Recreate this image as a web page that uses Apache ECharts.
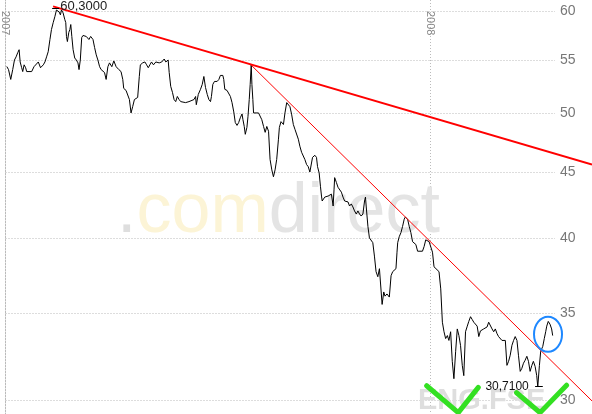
<!DOCTYPE html>
<html><head><meta charset="utf-8">
<script src="https://cdn.jsdelivr.net/npm/echarts@6/dist/echarts.min.js"></script>
<style>html,body{margin:0;padding:0;background:#fff}#c{width:592px;height:414px}</style>
</head><body><div id="c"></div>
<script>
// days since 2007-01-01
const days = [1.1,2.6,4.5,6.2,7.7,9.1,10.5,11.7,12.6,13.9,
14.8,16.0,17.3,18.2,22.5,24.5,25.9,28.2,30.1,32.5,
33.9,35.3,36.7,38.2,39.5,41.0,42.4,43.8,45.3,46.1,
47.2,48.1,49.5,51.0,51.8,52.4,53.2,54.4,55.3,56.1,
57.0,58.1,59.5,60.9,62.3,63.2,64.3,65.5,66.6,69.4,
71.7,73.2,75.2,76.6,78.0,79.4,80.9,82.2,83.7,85.1,
86.5,88.0,89.4,91.4,93.1,95.1,97.4,99.3,100.8,101.6,
103.6,105.0,106.5,107.9,109.3,110.8,112.1,113.6,115.0,115.9,
117.9,119.8,121.3,122.7,124.1,125.5,127.2,129.2,130.7,132.1,
134.3,136.4,137.8,139.8,140.7,142.0,143.5,144.9,146.3,147.7,
149.2,150.6,152.0,154.8,157.7,162.0,163.4,164.0,165.7,167.6,
169.1,170.5,171.9,173.4,174.8,176.2,177.0,178.2,179.6,181.9,
183.4,184.7,186.8,187.6,188.5,190.4,191.9,193.3,194.7,196.2,
197.5,199.0,200.4,201.8,203.3,204.1,205.2,206.1,207.5,208.4,
209.5,210.3,211.2,211.8,212.6,213.2,217.5,218.9,220.3,221.8,
223.2,224.6,226.1,227.4,228.9,230.3,231.7,233.1,234.6,235.4,
236.8,238.9,240.2,241.7,243.1,244.5,246.0,247.4,248.8,251.7,
253.0,254.5,257.3,258.8,260.2,261.6,263.0,263.9,265.9,267.3,
268.2,269.6,270.7,271.6,272.2,273.0,274.4,275.8,277.3,278.7,
280.1,281.0,281.6,282.4,282.9,284.4,285.8,287.2,288.7,290.1,
291.5,292.9,294.4,295.7,297.2,298.6,300.0,301.5,302.9,304.3,
305.7,307.2,308.6,309.4,310.0,311.5,312.8,314.3,315.7,317.1,
318.5,320.0,321.4,322.8,323.7,325.1,326.2,327.9,329.9,331.4,
332.8,334.2,335.6,336.5,337.1,338.4,339.9,341.3,342.7,343.6,
344.8,345.6,347.0,348.4,349.9,351.3,352.7,354.2,358.4,359.8,
361.2,362.7,364.1,365.5,367.0,368.3,369.8,372.6,374.1,375.5,
376.9,378.3,379.8,381.1,382.6,384.0,385.4,386.9,388.3,389.7,
391.1,392.6,393.9,395.4,396.9,398.2,399.7,401.1,402.5,403.9,
405.4,406.8,408.2,409.7,411.0,412.5,413.9,415.3,416.8,418.2,
419.6,421.0,422.5,423.8,425.3,426.7,428.1,429.6,431.0,432.4,
433.8,435.3,436.7,438.1,439.6,440.9,442.4,443.8,445.2,446.6,
448.1,449.5,450.9,452.4,453.7,455.2,456.6,457.5,458.9,460.0,
461.8,463.1,464.3,465.2,466.5,468.0,469.4,470.3];

const prices = [54.35,54.05,53.11,54.05,54.98,55.29,55.70,56.00,54.79,54.23,
53.86,54.51,54.23,53.86,53.86,54.33,54.51,54.79,54.23,54.51,
54.79,55.29,55.80,57.03,58.05,58.77,59.39,60.11,60.30,59.90,
59.59,60.11,59.80,59.08,58.77,57.34,56.82,57.75,58.05,58.57,
57.34,56.00,55.18,54.98,54.70,54.05,54.98,57.23,57.44,57.34,
57.03,57.34,57.03,56.21,55.49,54.98,54.33,54.05,54.23,53.77,
53.11,54.33,54.70,54.33,54.89,54.33,54.05,53.86,53.11,52.27,
52.08,51.99,51.24,50.03,50.59,51.24,51.24,51.43,53.39,54.51,
54.70,54.79,54.51,54.23,54.51,54.79,54.51,54.79,54.98,54.70,
54.79,55.08,54.79,54.98,53.77,52.46,51.90,51.24,51.05,51.52,
51.24,51.05,50.96,50.96,51.05,51.24,51.52,50.77,51.71,52.18,
52.64,53.39,52.36,51.71,51.24,51.05,51.52,52.64,52.92,52.92,
53.11,53.49,53.49,53.11,52.18,52.08,51.99,51.52,50.96,50.12,
49.18,48.93,49.18,49.60,49.94,49.43,48.84,48.16,48.76,49.69,
51.24,52.64,54.50,52.64,51.24,50.03,50.03,49.86,49.43,48.84,
48.33,48.84,48.42,46.05,45.20,44.65,45.20,46.05,47.74,48.76,
49.26,49.01,50.03,50.96,50.96,50.59,49.86,49.01,48.59,47.74,
47.15,46.64,46.05,45.63,45.46,45.03,44.95,46.22,46.39,46.22,
45.46,44.95,43.90,43.14,42.76,42.91,43.06,42.91,43.14,43.06,
43.29,42.76,42.38,43.67,44.58,44.20,43.82,43.67,43.44,43.06,
42.76,42.76,42.69,42.38,42.54,42.31,42.01,41.78,42.01,41.78,
41.63,41.78,42.76,43.06,42.38,40.87,40.04,39.90,39.70,38.76,
37.70,37.36,37.90,37.90,35.56,36.36,36.09,36.23,36.03,37.43,
37.70,37.76,37.90,39.03,39.70,40.12,40.42,40.87,41.40,41.55,
41.63,41.40,40.87,40.42,39.77,39.90,39.57,39.10,39.10,39.43,
39.90,39.90,39.77,39.70,39.03,38.03,37.90,37.70,36.56,34.45,
33.87,33.46,33.64,33.35,33.87,32.13,31.15,32.71,34.04,33.64,
33.06,31.90,31.32,33.87,34.21,34.50,34.79,34.62,34.45,34.33,
34.21,33.58,33.92,34.04,34.04,33.92,34.16,34.45,34.33,34.04,
33.87,34.04,33.75,33.58,33.64,33.35,33.29,33.35,31.90,32.13,
32.48,33.06,33.35,33.58,33.35,32.48,31.56,31.73,32.02,32.19,
32.42,32.13,31.56,31.90,32.13,31.84,31.32,30.71,31.90,32.71,
33.00,33.46,33.87,34.21,34.50,34.33,34.04,33.64];

const yTicks = [30, 35, 40, 45, 50, 55, 60];
const yearTicks = [2007, 2008];
const upperTrendDays = [43.6, 503.9];
const upperTrendVals = [60.5, 45.63];
const lowerTrendDays = [211.8, 503.9];
const lowerTrendVals = [54.6, 29.94];
const highDay = 45.3, highVal = 60.30, highLabel = '60,3000';
const highTickDays = [40.1, 46.1];
const lowDay = 457.5, lowVal = 30.71, lowLabel = '30,7100';
const lowTickDays = [455.2, 461.8];
const checkLeftDays = [362.7, 389.7, 406.8];
const checkLeftVals = [30.76, 29.32, 30.67];
const checkRightDays = [439.5, 459.5, 482.2];
const checkRightVals = [30.38, 29.32, 30.79];
const circleDay = 466.3, circleVal = 33.72;
const xMaxDay = 472.3;      // right edge of the price panel
const xOverlayMaxDay = 503.9; // right edge of the picture (trend lines run past the panel)
const yMin = 29.25, yMax = 61.19;

const T0 = Date.UTC(2007, 0, 1);
const DAY = 86400000;
const pairs = (ds, vs) => ds.map((d, i) => [d, vs[i]]);
const yearDays = yearTicks.map(y => (Date.UTC(y, 0, 1) - T0) / DAY);
const yearOf = d => String(new Date(T0 + d * DAY + DAY / 2).getUTCFullYear());

const chart = echarts.init(document.getElementById('c'), null, {renderer: 'canvas'});
const grid = '#bbbbbb';
chart.setOption({
  animation: false,
  backgroundColor: '#ffffff',
  grid: [
    {left: 2, right: 37, top: 0, bottom: 0, containLabel: false},
    {left: 2, right: 0, top: 0, bottom: 0, containLabel: false}
  ],
  xAxis: [{
    type: 'value', position: 'top', min: 0, max: xMaxDay, gridIndex: 0,
    axisLine: {show: false},
    axisTick: {show: false, customValues: yearDays},
    axisLabel: {customValues: yearDays, inside: true, rotate: 90, margin: 11,
      padding: [10, 0, 0, 0], color: '#888', fontSize: 11, fontFamily: 'Arial',
      formatter: v => yearOf(v)},
    splitLine: {show: true, lineStyle: {color: grid, type: [1, 2], width: 1}}
  }, {
    type: 'value', gridIndex: 1, min: 0, max: xOverlayMaxDay, show: false
  }],
  yAxis: [{
    type: 'log', position: 'right', min: yMin, max: yMax, gridIndex: 0,
    axisLine: {show: true, lineStyle: {color: grid, type: [1, 2], width: 1}},
    axisTick: {show: false, customValues: yTicks},
    axisLabel: {customValues: yTicks, color: '#777', fontSize: 14, fontFamily: 'Arial', margin: 5,
      formatter: v => String(Math.round(v))},
    splitLine: {show: true, lineStyle: {color: grid, type: [1, 2], width: 1}}
  }, {
    type: 'log', gridIndex: 1, min: yMin, max: yMax, show: false
  }],
  series: [
    {type: 'line', data: pairs(days, prices), symbol: 'none', silent: true, z: 3,
      xAxisIndex: 0, yAxisIndex: 0,
      lineStyle: {color: '#000', width: 1},
      markLine: {symbol: ['none', 'none'], silent: true, animation: false, label: {show: false},
        lineStyle: {color: '#000', width: 1, type: 'solid'},
        data: [
          [{coord: [highTickDays[0], highVal]}, {coord: [highTickDays[1], highVal]}],
          [{coord: [lowTickDays[0], lowVal]}, {coord: [lowTickDays[1], lowVal]}]
        ]},
      markPoint: {symbol: 'circle', symbolSize: 0, silent: true, animation: false,
        data: [
          {coord: [highDay, highVal], label: {show: true, position: 'right', distance: 2, offset: [0, -2],
            formatter: highLabel, color: '#222', fontSize: 13, fontFamily: 'Arial'}},
          {coord: [lowDay, lowVal], label: {show: true, position: 'left', distance: 9,
            formatter: lowLabel, color: '#111', fontSize: 12, fontFamily: 'Arial'}}
        ]}
    },
    {type: 'line', data: pairs(upperTrendDays, upperTrendVals), symbol: 'none', silent: true, z: 4,
      xAxisIndex: 1, yAxisIndex: 1, lineStyle: {color: '#ff0000', width: 2}},
    {type: 'line', data: pairs(lowerTrendDays, lowerTrendVals), symbol: 'none', silent: true, z: 4,
      xAxisIndex: 1, yAxisIndex: 1, lineStyle: {color: '#ff0000', width: 1}},
    {type: 'line', data: pairs(checkLeftDays, checkLeftVals), symbol: 'none', silent: true, z: 5,
      xAxisIndex: 1, yAxisIndex: 1, lineStyle: {color: '#33e022', width: 5, cap: 'round', join: 'round'}},
    {type: 'line', data: pairs(checkRightDays, checkRightVals), symbol: 'none', silent: true, z: 5,
      xAxisIndex: 1, yAxisIndex: 1, lineStyle: {color: '#33e022', width: 5, cap: 'round', join: 'round'}}
  ]
});

const c = chart.convertToPixel({gridIndex: 0}, [circleDay, circleVal]);
chart.setOption({
  graphic: [
    {type: 'text', left: 117, top: 178, z: 0, silent: true,
      style: {text: '{a|.}{b|com}{c|direct}', font: '70px Arial',
        rich: {a: {fill: '#dedede', font: '70px Arial'}, b: {fill: '#fcf4d6', font: '70px Arial'}, c: {fill: '#e4e4e4', font: '70px Arial'}}}},
    {type: 'text', left: 418, top: 386, z: 0, silent: true,
      style: {text: 'ENG.FSE', font: 'bold 29px Arial', fill: '#dedede'}},
    {type: 'ellipse', z: 10, silent: true, shape: {cx: c[0], cy: c[1], rx: 14, ry: 17.5},
      style: {fill: 'none', stroke: '#1e88ff', lineWidth: 2}}
  ]
});
</script></body></html>
